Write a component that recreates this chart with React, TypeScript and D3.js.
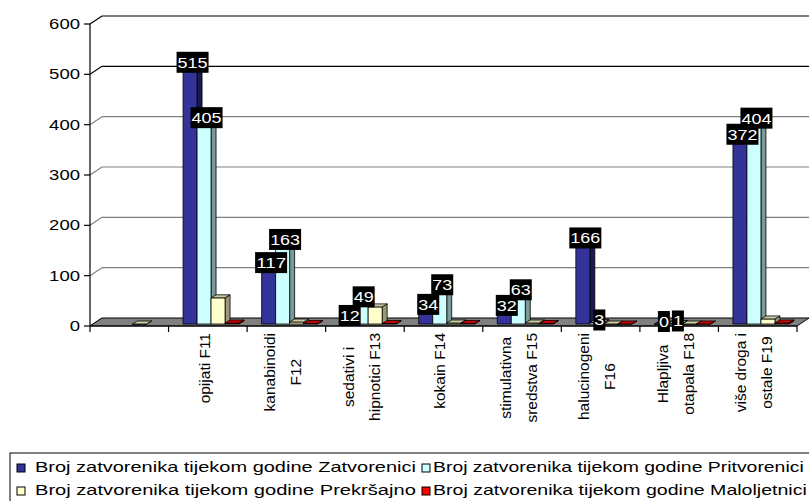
import React from "react";
import * as d3 from "d3";

const categoryLines: string[][] = [
  [],
  ["opijati F11"],
  ["kanabinoidi", "F12"],
  ["sedativi i", "hipnotici F13"],
  ["kokain F14"],
  ["stimulativna", "sredstva F15"],
  ["halucinogeni", "F16"],
  ["Hlapljiva", "otapala F18"],
  ["više droga i", "ostale F19"],
];

const zatvorenici: (number | null)[] = [null, 515, 117, 12, 34, 32, 166, 0, 372];
const pritvorenici: (number | null)[] = [null, 405, 163, 49, 73, 63, 3, 1, 404];
const prekrsajno: (number | null)[] = [0, 52, 4, 34, 2, 2, 0, 0, 10];
const maloljetnici: (number | null)[] = [null, 2, 1, 1, 1, 1, 0, 0, 2];

const seriesNames = [
  "Broj zatvorenika tijekom godine Zatvorenici",
  "Broj zatvorenika tijekom godine Pritvorenici",
  "Broj zatvorenika tijekom godine Prekršajno",
  "Broj zatvorenika tijekom godine Maloljetnici",
];
const seriesValues = [zatvorenici, pritvorenici, prekrsajno, maloljetnici];
const seriesLabeled = [true, true, false, false];
const seriesColors = ["#333399", "#CCFFFF", "#FFFFCC", "#FF0000"];

const yTicks = [0, 100, 200, 300, 400, 500, 600];

const FONT = "'Liberation Sans', Arial, sans-serif";

let ctx: CanvasRenderingContext2D | null = null;
function measure(text: string, size: number) {
  if (!ctx) ctx = document.createElement("canvas").getContext("2d");
  if (!ctx) return text.length * size * 0.5;
  ctx.font = `${size}px ${FONT}`;
  return ctx.measureText(text).width;
}

// text stretched horizontally to a target width
function Stretched(props: {
  x: number;
  y: number;
  text: string;
  size: number;
  width: number;
  anchor: "start" | "middle" | "end";
  fill?: string;
}) {
  const { x, y, text, size, width, anchor, fill } = props;
  const natural = measure(text, size);
  const sx = width / natural;
  return (
    <text
      transform={`translate(${x},${y}) scale(${sx},1)`}
      fontSize={size}
      textAnchor={anchor}
      fill={fill || "#000"}
    >
      {text}
    </text>
  );
}

export default function App() {
  const W = 809;
  const H = 501;
  const axisX = 90;
  const plotRight = 797;
  const baseY = 326;
  const depthX = 12;
  const depthY = -8;
  const barOffY = -2;
  const bdx = 5;
  const bdy = -3;
  const barW = 14;

  const x = d3
    .scaleBand<number>()
    .domain(categoryLines.map((_, i) => i))
    .range([axisX, plotRight])
    .padding(0);
  const y = d3.scaleLinear().domain([0, 600]).range([baseY, baseY - 302]);

  const shade = (c: string, k: number) => {
    const col = d3.rgb(c);
    return d3.rgb(col.r * k, col.g * k, col.b * k).toString();
  };

  const bars: React.ReactNode[] = [];
  const labels: React.ReactNode[] = [];
  categoryLines.forEach((_, i) => {
    seriesValues.forEach((vals, s) => {
      const v = vals[i];
      if (v === null || v === undefined) return;
      const x0 = (x(i) as number) + 14.5 + s * barW;
      const yb = y(0) + barOffY;
      const yt = y(v) + barOffY;
      const c = seriesColors[s];
      const front = `M${x0},${yt}L${x0 + barW},${yt}L${x0 + barW},${yb}L${x0},${yb}Z`;
      const side = `M${x0 + barW},${yt}L${x0 + barW + bdx},${yt + bdy}L${x0 + barW + bdx},${yb + bdy}L${x0 + barW},${yb}Z`;
      const top = `M${x0},${yt}L${x0 + bdx},${yt + bdy}L${x0 + barW + bdx},${yt + bdy}L${x0 + barW},${yt}Z`;
      bars.push(
        <g key={`b${i}-${s}`} stroke="#000" strokeWidth={0.8} strokeLinejoin="round">
          <path d={side} fill={shade(c, s === 0 ? 0.5 : 0.6)} />
          <path d={front} fill={c} />
          <path d={top} fill={shade(c, 0.8)} />
        </g>
      );
      if (seriesLabeled[s]) {
        const txt = String(v);
        const cx = x0 + barW / 2 + 2.5;
        const cy = yt - 2.5;
        const bw = txt.length * 10 + 2;
        labels.push(
          <g key={`l${i}-${s}`}>
            <rect x={cx - bw / 2} y={cy - 10.5} width={bw} height={21} fill="#000" />
            <Stretched x={cx} y={cy + 5.5} text={txt} size={15} width={txt.length * 10} anchor="middle" fill="#fff" />
          </g>
        );
      }
    });
  });

  const legendTextLen = [381, 371, 381, 374];
  const legendPos = [
    { mx: 17, tx: 35, y: 472 },
    { mx: 422, tx: 433, y: 472 },
    { mx: 17, tx: 35, y: 495 },
    { mx: 422, tx: 433, y: 495 },
  ];

  return (
    <svg
      width={W}
      height={H}
      style={{ position: "absolute", left: 0, top: 0, background: "#fff" }}
      fontFamily={FONT}
    >
      <rect x={0} y={0} width={W} height={H} fill="#fff" />
      {yTicks.map((t) => (
        <g key={`g${t}`} stroke={t >= 500 ? "#000" : "#808080"} strokeWidth={1.2} fill="none">
          {t > 0 && (
            <line x1={axisX + depthX} x2={W} y1={y(t) + depthY} y2={y(t) + depthY} />
          )}
          <line x1={axisX} y1={y(t)} x2={axisX + depthX} y2={y(t) + depthY} />
        </g>
      ))}
      <path
        d={`M${axisX},${baseY}L${axisX + depthX},${baseY + depthY}L${plotRight + depthX},${baseY + depthY}L${plotRight},${baseY}Z`}
        fill="#808080"
        stroke="#000"
        strokeWidth={1}
      />
      <line x1={axisX} x2={axisX} y1={y(600)} y2={baseY} stroke="#000" strokeWidth={1.2} />
      {yTicks.map((t) => (
        <g key={`t${t}`}>
          <line x1={axisX - 6} x2={axisX} y1={y(t)} y2={y(t)} stroke="#000" strokeWidth={1.2} />
          <Stretched x={80} y={y(t) + 5} text={String(t)} size={14} width={String(t).length * 10.3} anchor="end" />
        </g>
      ))}
      <line x1={axisX} x2={plotRight} y1={baseY} y2={baseY} stroke="#000" strokeWidth={1.2} />
      {d3.range(categoryLines.length + 1).map((k) => {
        const xx = axisX + k * x.bandwidth();
        return <line key={`xt${k}`} x1={xx} x2={xx} y1={baseY} y2={baseY + 6} stroke="#000" strokeWidth={1.2} />;
      })}
      {bars}
      {labels}
      {categoryLines.map((lines, i) => {
        if (!lines.length) return null;
        const cx = (x(i) as number) + x.bandwidth() / 2;
        const L = Math.max(...lines.map((l) => measure(l, 15.5)));
        const cy = 333 + L / 2;
        const centers = lines.length === 1 ? [cx - 3] : [cx - 16, cx + 10];
        return (
          <g key={`c${i}`}>
            {lines.map((ln, j) => (
              <text
                key={j}
                transform={`translate(${centers[j] + 4.7},${cy}) rotate(-90)`}
                fontSize={15.5}
                textAnchor="middle"
                fill="#000"
              >
                {ln}
              </text>
            ))}
          </g>
        );
      })}
      <rect x={10} y={453} width={820} height={70} fill="#fff" stroke="#000" strokeWidth={1} />
      {seriesNames.map((n, s) => {
        const p = legendPos[s];
        return (
          <g key={`lg${s}`}>
            <rect x={p.mx} y={p.y - 8} width={8} height={8} fill={seriesColors[s]} stroke="#000" strokeWidth={1} />
            <Stretched x={p.tx} y={p.y} text={n} size={14} width={legendTextLen[s]} anchor="start" />
          </g>
        );
      })}
    </svg>
  );
}
